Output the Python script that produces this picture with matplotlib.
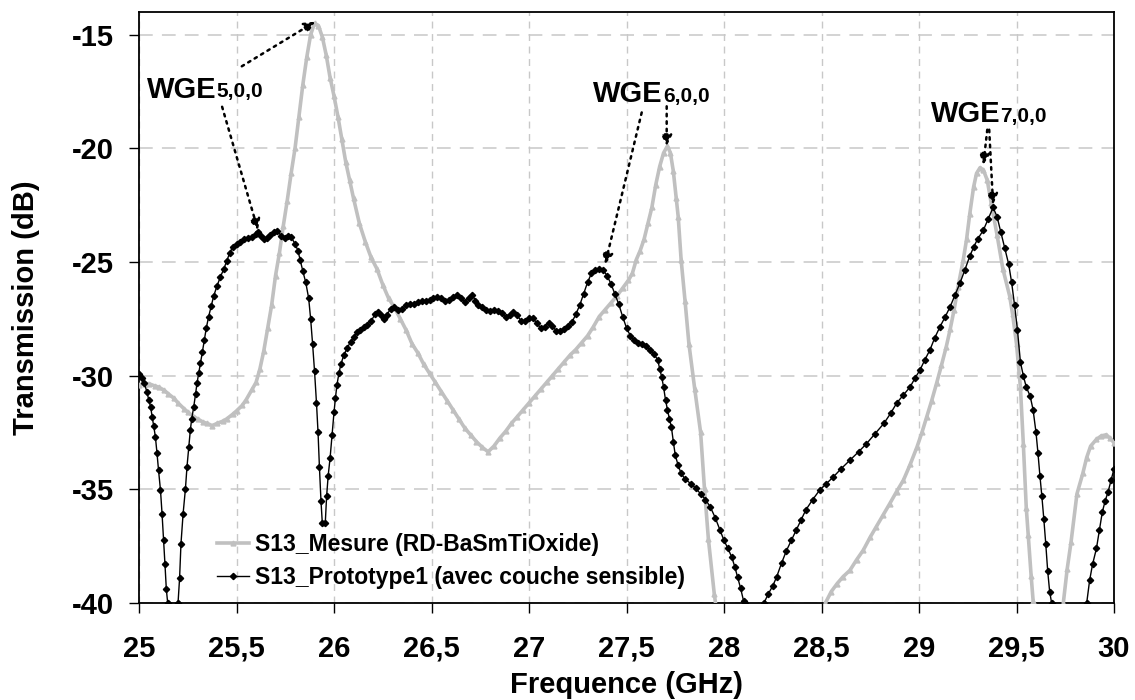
import matplotlib
matplotlib.use("Agg")
import matplotlib.pyplot as plt
from matplotlib.ticker import FuncFormatter

plt.rcParams['font.family'] = ['Liberation Sans', 'DejaVu Sans']
plt.rcParams['font.weight'] = 'bold'

COLOR_GRAY = '#c0c0c0'
COLOR_GRID = '#c8c8c8'

# S13 mesure (RD-BaSmTiOxide)
mesure_freq = [25.00, 25.03, 25.05, 25.08, 25.10, 25.13, 25.15, 25.18, 25.20, 25.23,
               25.25, 25.28, 25.30, 25.33, 25.35, 25.375, 25.40, 25.43, 25.45, 25.48,
               25.50, 25.53, 25.55, 25.58, 25.60, 25.62, 25.64, 25.66, 25.68, 25.70,
               25.72, 25.74, 25.76, 25.78, 25.80, 25.82, 25.84, 25.86, 25.88, 25.90,
               25.92, 25.94, 25.96, 25.98, 26.00, 26.02, 26.04, 26.06, 26.08, 26.10,
               26.13, 26.16, 26.19, 26.22, 26.25, 26.28, 26.31, 26.34, 26.37, 26.40,
               26.43, 26.46, 26.49, 26.52, 26.55, 26.58, 26.61, 26.64, 26.67, 26.70,
               26.73, 26.76, 26.79, 26.82, 26.85, 26.88, 26.91, 26.94, 26.97, 27.00,
               27.03, 27.06, 27.09, 27.12, 27.15, 27.18, 27.21, 27.24, 27.27, 27.30,
               27.33, 27.36, 27.39, 27.42, 27.45, 27.48, 27.51, 27.53, 27.55, 27.57,
               27.59, 27.61, 27.63, 27.65, 27.67, 27.69, 27.71, 27.725, 27.74, 27.755,
               27.765, 27.78, 27.80, 27.82, 27.85, 27.88, 27.90, 27.92, 27.95, 27.98,
               28.10, 28.30, 28.45, 28.52, 28.55, 28.58, 28.61, 28.646, 28.68, 28.714,
               28.75, 28.78, 28.815, 28.85, 28.885, 28.92, 28.955, 28.99, 29.015, 29.04,
               29.065, 29.09, 29.115, 29.14, 29.16, 29.18, 29.20, 29.227, 29.244, 29.26,
               29.28, 29.295, 29.313, 29.33, 29.35, 29.37, 29.40, 29.43, 29.465, 29.48,
               29.50, 29.52, 29.535, 29.55, 29.56, 29.575, 29.585, 29.60, 29.65, 29.72,
               29.74, 29.76, 29.78, 29.81, 29.84, 29.86, 29.88, 29.91, 29.935, 29.96,
               29.98, 30.00]
mesure_db = [-30.4, -30.35, -30.35, -30.45, -30.5, -30.65, -30.8, -31.0, -31.2, -31.45,
             -31.6, -31.8, -31.9, -32.05, -32.1, -32.2, -32.1, -32.0, -31.9, -31.7,
             -31.55, -31.3, -31.05, -30.6, -30.3, -29.7, -28.9, -27.9, -26.9, -25.6,
             -24.6, -23.4, -22.3, -21.1, -20.0, -18.6, -17.2, -16.0, -15.0, -14.5,
             -14.6, -15.1, -15.9, -16.9, -17.7, -18.6, -19.6, -20.6, -21.4, -22.2,
             -23.3, -24.1, -24.8, -25.3, -26.0, -26.6, -27.0, -27.5, -28.0, -28.6,
             -29.0, -29.5, -29.9, -30.3, -30.7, -31.1, -31.5, -31.9, -32.3, -32.6,
             -32.9, -33.15, -33.35, -33.1, -32.75, -32.45, -32.1, -31.8, -31.5, -31.2,
             -30.9, -30.6, -30.3, -30.0, -29.7, -29.4, -29.1, -28.85, -28.55, -28.25,
             -27.85, -27.4, -27.1, -26.8, -26.5, -26.15, -25.8, -25.5, -24.9, -24.5,
             -24.0, -23.3, -22.6, -21.6, -20.8, -20.2, -19.9, -20.2, -21.0, -22.2,
             -23.0, -24.9, -26.7, -28.6, -30.6, -32.5, -35.0, -37.2, -39.6, -41.5,
             -44.0, -44.0, -41.5, -40.0, -39.5, -39.15, -38.85, -38.56, -38.1, -37.68,
             -37.1, -36.66, -36.15, -35.63, -35.1, -34.6, -33.9, -33.13, -32.5, -31.8,
             -31.1, -30.34, -29.55, -28.72, -27.95, -27.1, -26.1, -24.9, -24.0, -22.9,
             -21.7, -21.1, -20.85, -20.95, -21.4, -22.4, -23.8, -25.3, -26.5, -27.3,
             -28.6, -30.5, -33.0, -35.8, -37.0, -38.8, -39.9, -41.5, -44.0, -41.5,
             -40.0, -38.5, -37.3, -35.2, -34.3, -33.6, -33.1, -32.8, -32.65, -32.6,
             -32.75, -32.95]

# S13 prototype 1 (avec couche sensible)
proto_freq = [25.00, 25.014, 25.027, 25.04, 25.05, 25.06, 25.067, 25.075, 25.084, 25.092,
              25.10, 25.11, 25.118, 25.126, 25.133, 25.14, 25.147, 25.17, 25.20, 25.208,
              25.215, 25.226, 25.238, 25.246, 25.255, 25.263, 25.27, 25.28, 25.29, 25.297,
              25.306, 25.315, 25.325, 25.335, 25.345, 25.357, 25.37, 25.383, 25.40, 25.417,
              25.435, 25.45, 25.465, 25.48, 25.50, 25.52, 25.54, 25.56, 25.58, 25.60,
              25.61, 25.625, 25.64, 25.655, 25.67, 25.69, 25.71, 25.73, 25.75, 25.765,
              25.78, 25.80, 25.815, 25.826, 25.84, 25.855, 25.87, 25.88, 25.89, 25.90,
              25.91, 25.918, 25.925, 25.933, 25.94, 25.955, 25.962, 25.97, 25.98, 25.99,
              26.00, 26.007, 26.015, 26.025, 26.035, 26.05, 26.067, 26.085, 26.10, 26.12,
              26.135, 26.155, 26.17, 26.19, 26.21, 26.225, 26.24, 26.255, 26.27, 26.29,
              26.31, 26.33, 26.35, 26.37, 26.39, 26.41, 26.43, 26.45, 26.47, 26.49,
              26.51, 26.53, 26.55, 26.57, 26.59, 26.61, 26.63, 26.65, 26.67, 26.69,
              26.71, 26.725, 26.74, 26.76, 26.78, 26.80, 26.82, 26.84, 26.86, 26.88,
              26.90, 26.92, 26.94, 26.96, 26.98, 27.00, 27.02, 27.04, 27.06, 27.08,
              27.10, 27.12, 27.14, 27.16, 27.18, 27.20, 27.22, 27.24, 27.26, 27.28,
              27.30, 27.32, 27.34, 27.36, 27.38, 27.40, 27.42, 27.44, 27.46, 27.48,
              27.50, 27.52, 27.54, 27.56, 27.58, 27.60, 27.62, 27.64, 27.66, 27.67,
              27.68, 27.69, 27.70, 27.71, 27.72, 27.73, 27.74, 27.75, 27.765, 27.78,
              27.80, 27.83, 27.855, 27.88, 27.905, 27.93, 27.955, 27.98, 28.00, 28.02,
              28.04, 28.055, 28.07, 28.085, 28.10, 28.11, 28.165, 28.205, 28.227, 28.25,
              28.27, 28.295, 28.32, 28.345, 28.37, 28.395, 28.42, 28.455, 28.49, 28.525,
              28.56, 28.60, 28.646, 28.69, 28.73, 28.775, 28.82, 28.855, 28.886, 28.92,
              28.954, 28.98, 29.005, 29.03, 29.056, 29.08, 29.108, 29.135, 29.16, 29.185,
              29.21, 29.235, 29.26, 29.28, 29.30, 29.33, 29.355, 29.38, 29.40, 29.42,
              29.44, 29.46, 29.475, 29.49, 29.505, 29.52, 29.535, 29.55, 29.57, 29.585,
              29.60, 29.61, 29.62, 29.63, 29.64, 29.65, 29.66, 29.67, 29.68, 29.77,
              29.86, 29.875, 29.89, 29.91, 29.925, 29.94, 29.955, 29.97, 29.985, 30.00]
proto_db = [-29.93, -30.1, -30.34, -30.7, -31.07, -31.4, -31.8, -32.2, -32.7, -33.4,
            -34.16, -35.04, -36.07, -37.25, -38.3, -39.4, -40.0, -43.0, -40.0, -38.9,
            -37.4, -36.07, -34.97, -34.0, -33.13, -32.4, -31.9, -31.4, -30.8, -30.34,
            -29.9, -29.46, -28.95, -28.43, -27.9, -27.4, -26.95, -26.49, -26.05, -25.66,
            -25.3, -24.95, -24.6, -24.35, -24.2, -24.1, -24.0, -23.95, -23.9, -23.75,
            -23.7, -23.85, -24.0, -23.95, -23.8, -23.7, -23.65, -23.85, -23.95, -23.85,
            -23.9, -24.2, -24.5, -24.9, -25.4, -25.9, -26.6, -27.5, -28.6, -29.8,
            -31.2, -32.5, -34.0, -35.5, -36.5, -36.5, -35.3, -34.4, -33.6, -32.6,
            -31.6, -31.0, -30.4, -29.9, -29.5, -29.1, -28.8, -28.5, -28.3, -28.1,
            -28.0, -27.85, -27.75, -27.6, -27.3, -27.2, -27.35, -27.5, -27.35, -27.05,
            -27.0, -27.1, -27.05, -26.9, -26.85, -26.85, -26.75, -26.7, -26.7, -26.65,
            -26.6, -26.55, -26.6, -26.7, -26.65, -26.55, -26.45, -26.6, -26.75, -26.6,
            -26.45, -26.7, -26.9, -27.0, -27.1, -27.15, -27.1, -27.15, -27.25, -27.4,
            -27.35, -27.2, -27.35, -27.6, -27.6, -27.45, -27.45, -27.7, -27.9, -27.85,
            -27.7, -27.8, -28.05, -28.05, -27.95, -27.8, -27.65, -27.3, -26.9, -26.4,
            -25.9, -25.5, -25.35, -25.3, -25.35, -25.6, -25.95, -26.4, -26.85, -27.4,
            -27.9, -28.25, -28.45, -28.55, -28.6, -28.7, -28.85, -29.05, -29.3, -29.7,
            -30.04, -30.5, -31.07, -31.5, -31.9, -32.25, -32.9, -33.5, -33.95, -34.3,
            -34.55, -34.75, -34.95, -35.2, -35.45, -35.78, -36.25, -36.81, -37.25, -37.6,
            -37.99, -38.4, -38.87, -39.35, -39.9, -40.0, -42.0, -40.0, -39.6, -39.25,
            -38.85, -38.25, -37.7, -37.25, -36.8, -36.35, -35.9, -35.45, -35.04, -34.75,
            -34.46, -34.1, -33.72, -33.35, -33.0, -32.55, -32.1, -31.65, -31.2, -30.85,
            -30.5, -30.1, -29.75, -29.3, -28.87, -28.35, -27.84, -27.4, -26.96, -26.45,
            -25.93, -25.35, -24.75, -24.35, -24.0, -23.6, -23.1, -22.6, -23.0, -23.7,
            -24.4, -25.1, -25.9, -26.9, -28.0, -29.4, -30.0, -30.5, -30.9, -31.5,
            -32.5, -33.4, -34.4, -35.3, -36.3, -37.4, -38.6, -39.5, -40.0, -43.0,
            -40.0, -39.0, -38.3, -37.6, -36.8, -36.0, -35.5, -35.1, -34.6, -34.1]

x_ticks = [25, 25.5, 26, 26.5, 27, 27.5, 28, 28.5, 29, 29.5, 30]
y_ticks = [-40, -35, -30, -25, -20, -15]


def comma_fmt(v, pos):
    # virgule decimale (format francais)
    if abs(v - round(v)) < 1e-9:
        return str(int(round(v)))
    return f"{v:g}".replace('.', ',')


fig = plt.figure(figsize=(11.35, 7), dpi=100)
ax = fig.add_axes([0.1225, 0.1386, 0.859, 0.8443])

ax.plot(mesure_freq, mesure_db, color=COLOR_GRAY, lw=2.6, marker='^', ms=3.5,
        mfc=COLOR_GRAY, mec=COLOR_GRAY, label='S13_Mesure (RD-BaSmTiOxide)', zorder=3)
ax.plot(proto_freq, proto_db, color='black', lw=1.0, marker='D', ms=3.2,
        mfc='black', mec='black', label='S13_Prototype1 (avec couche sensible)', zorder=4)

ax.set_xlim(25, 30)
ax.set_ylim(-40, -14)
ax.set_xticks(x_ticks)
ax.set_yticks(y_ticks)
ax.xaxis.set_major_formatter(FuncFormatter(comma_fmt))
ax.yaxis.set_major_formatter(FuncFormatter(comma_fmt))
ax.tick_params(axis='both', direction='out', length=7, width=1, labelsize=21, pad=11)
ax.tick_params(axis='x', pad=16)

# grilles en tirets gris
ax.yaxis.grid(True, color=COLOR_GRID, lw=1.1, dashes=(9, 6))
ax.xaxis.grid(True, color=COLOR_GRID, lw=1.0, dashes=(5, 4))
ax.set_axisbelow(True)
for s in ax.spines.values():
    s.set_linewidth(1.3)
    s.set_color('black')

ax.set_xlabel('Frequence (GHz)', fontsize=21, fontweight='bold', labelpad=6)
ax.set_ylabel('Transmission (dB)', fontsize=21, fontweight='bold', labelpad=23)

leg = ax.legend(loc='lower left', bbox_to_anchor=(0.066, 0.0), frameon=False,
                fontsize=16.5, handlelength=1.4, handletextpad=0.25, labelspacing=0.45,
                borderpad=0.1)

# annotations des modes WGE
arrow = dict(arrowstyle='-|>', linestyle=(0, (1, 2)), lw=1.8, color='black',
             mutation_scale=16, shrinkA=0, shrinkB=0)


def label_mode(x, y, n):
    t = ax.text(x, y, 'WGE', fontsize=21, fontweight='bold', ha='left', va='baseline', zorder=6)
    ax.annotate(f'{n},0,0', xy=(1, 0.08), xycoords=t, fontsize=15, fontweight='bold',
                ha='left', va='bottom', zorder=6)


label_mode(25.041, -17.77, 5)
label_mode(27.33, -17.95, 6)
label_mode(29.06, -18.85, 7)

ax.annotate('', xy=(25.903, -14.43), xytext=(25.527, -16.39), arrowprops=arrow)
ax.annotate('', xy=(25.61, -23.6), xytext=(25.426, -18.17), arrowprops=arrow)
ax.annotate('', xy=(27.39, -25.1), xytext=(27.578, -18.42), arrowprops=arrow)
ax.annotate('', xy=(27.706, -19.9), xytext=(27.706, -18.15), arrowprops=arrow)
ax.annotate('', xy=(29.33, -20.72), xytext=(29.35, -19.18), arrowprops=arrow)
ax.annotate('', xy=(29.38, -22.48), xytext=(29.36, -19.18), arrowprops=arrow)

fig.savefig('out.png', dpi=100)
